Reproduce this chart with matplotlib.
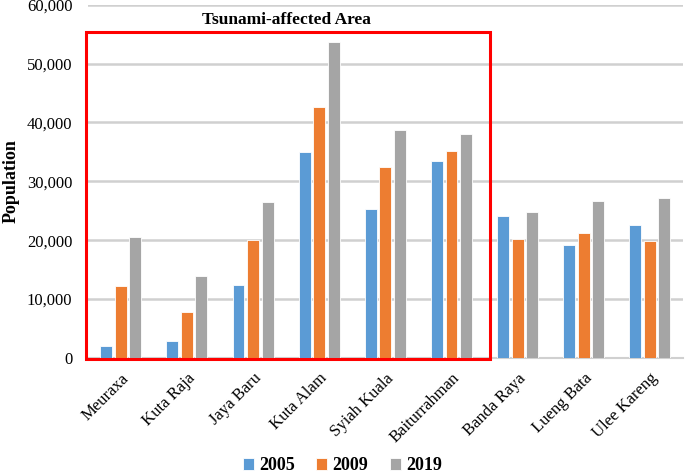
import numpy as np
import matplotlib.pyplot as plt
from matplotlib.patches import Rectangle

districts = ["Meuraxa", "Kuta Raja", "Jaya Baru", "Kuta Alam", "Syiah Kuala",
             "Baiturrahman", "Banda Raya", "Lueng Bata", "Ulee Kareng"]
pop_2005 = [2000, 2900, 12300, 34900, 25300, 33500, 24100, 19200, 22600]
pop_2009 = [12200, 7800, 20100, 42600, 32500, 35100, 20200, 21300, 19800]
pop_2019 = [20600, 13900, 26500, 53700, 38700, 38100, 24800, 26600, 27200]
years = ["2005", "2009", "2019"]
colors = ["#5B9BD5", "#ED7D31", "#A5A5A5"]

plt.rcParams['font.family'] = ['Liberation Serif', 'DejaVu Serif']

fig = plt.figure(figsize=(6.85, 4.74), dpi=100)
ax = fig.add_axes([0.128, 0.245, 0.869, 0.745])

x = np.arange(len(districts))
w = 0.18
for i, vals in enumerate([pop_2005, pop_2009, pop_2019]):
    ax.bar(x + (i - 1) * 0.22, vals, w, color=colors[i], edgecolor="white",
           linewidth=0.6, label=years[i], zorder=3)

ax.set_xlim(-0.5, len(districts) - 0.5)
ax.set_ylim(0, 60000)
ax.set_yticks(range(0, 60001, 10000))
ax.set_yticklabels([f"{v:,}" for v in range(0, 60001, 10000)], fontsize=12)
ax.set_xticks(x)
ax.set_xticklabels(districts, rotation=45, ha="right", rotation_mode="anchor", fontsize=12)
ax.tick_params(length=0)
ax.tick_params(axis="y", pad=11)
ax.tick_params(axis="x", pad=9)
ax.grid(axis="y", color="#D0D0D0", linewidth=1.8, zorder=0)
for s in ["top", "right", "left"]:
    ax.spines[s].set_visible(False)
ax.spines["bottom"].set_color("#D0D0D0")
ax.spines["bottom"].set_linewidth(1.5)

ax.set_ylabel("Population", fontsize=13, fontweight="bold", va="center")
ax.yaxis.set_label_coords(-0.128, 0.5)

rect = Rectangle((-0.53, -150), 6.11, 55550, fill=False, edgecolor="#FF0000",
                 linewidth=2.2, clip_on=False, zorder=5)
ax.add_patch(rect)
ax.text(2.5, 57400, "Tsunami-affected Area", ha="center", va="center",
        fontsize=12.5, fontweight="bold")

leg = fig.legend(loc="lower center", bbox_to_anchor=(0.5, -0.035), ncol=3, frameon=False,
                 prop={"weight": "bold", "size": 13}, handlelength=0.6, handleheight=0.6,
                 columnspacing=1.2, handletextpad=0.3)

plt.savefig("out.png", dpi=100)
